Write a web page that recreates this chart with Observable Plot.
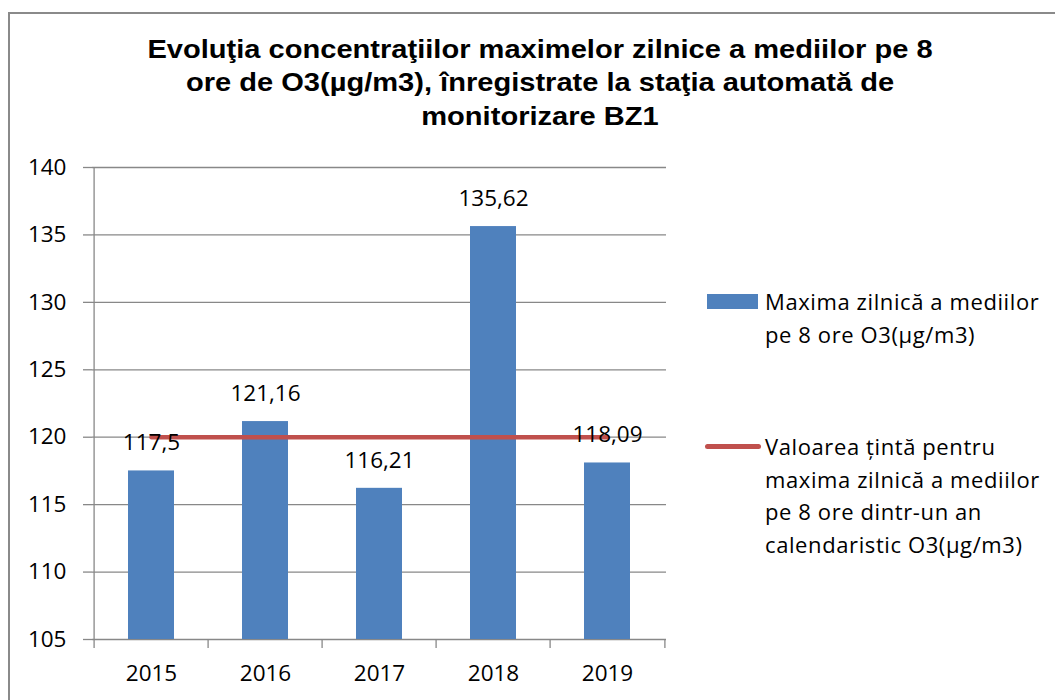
<!DOCTYPE html>
<html>
<head>
<meta charset="utf-8">
<script src="https://cdn.jsdelivr.net/npm/d3@7"></script>
<script src="https://cdn.jsdelivr.net/npm/@observablehq/plot@0.6"></script>
<style>
  body { margin: 0; background: #fff; }
  #wrap { position: relative; width: 1055px; height: 700px; overflow: hidden; background: #fff; }
  #border { position: absolute; left: 8px; top: 12px; width: 1100px; height: 800px; border: 2px solid #8a8a8a; box-sizing: border-box; }
  #title { position: absolute; left: 0; top: 33px; width: 1080px; text-align: center; font: bold 25.5px "Liberation Sans", Arial, sans-serif; line-height: 33.4px; color: #000; transform: scaleX(1.14); transform-origin: 540px 0; white-space: nowrap; }
  #chart { position: absolute; left: 0; top: 140px; }
  .lg-text { position: absolute; left: 765px; font: 22px "Open Sans", sans-serif; letter-spacing: 0.6px; color: #000; white-space: nowrap; }
  #sw1 { position: absolute; left: 707px; top: 294px; width: 51px; height: 15px; background: #4F81BD; }
  #sw2 { position: absolute; left: 705px; top: 444px; width: 56px; height: 4.5px; border-radius: 3px; background: #C0504D; }
</style>
</head>
<body>
<div id="wrap">
  <div id="border"></div>
  <div id="title">Evoluţia concentraţiilor maximelor zilnice a mediilor pe 8<br>ore de O3(µg/m3), înregistrate la staţia automată de<br>monitorizare BZ1</div>
  <div id="chart"></div>
  <div id="sw1"></div>
  <div class="lg-text" style="top:285px; line-height:32.5px;">Maxima zilnică a mediilor<br>pe 8 ore O3(µg/m3)</div>
  <div id="sw2"></div>
  <div class="lg-text" style="top:430px; line-height:32.7px;">Valoarea țintă pentru<br>maxima zilnică a mediilor<br>pe 8 ore dintr-un an<br>calendaristic O3(µg/m3)</div>
</div>
<script>
const years = ["2015", "2016", "2017", "2018", "2019"];
const maxValues = [117.5, 121.16, 116.21, 135.62, 118.09];
const targetValues = [120, 120, 120, 120, 120];
const yTicks = [105, 110, 115, 120, 125, 130, 135, 140];

const barData = years.map((y, i) => ({year: y, value: maxValues[i]}));
const lineData = years.map((y, i) => ({year: y, value: targetValues[i]}));
const yMin = yTicks[0], yMax = yTicks[yTicks.length - 1];

const W = 1055, H = 560, mL = 92, mR = 389, mT = 27, mB = 61;
const step = (W - mL - mR) / years.length;
const gray = "#888888";

const chart = Plot.plot({
  width: W, height: H,
  marginLeft: mL, marginRight: mR, marginTop: mT, marginBottom: mB,
  style: {fontFamily: "'Open Sans', sans-serif", fontSize: "22.5px", color: "#000", background: "transparent"},
  x: {type: "band", domain: years, paddingInner: 0.6, paddingOuter: 0.3, label: null},
  y: {domain: [yMin, yMax], label: null},
  marks: [
    Plot.gridY(yTicks, {stroke: gray, strokeOpacity: 1, strokeWidth: 1.3}),
    Plot.ruleX([years[0]], {x: d => d, dx: -step / 2, y1: yMin, y2: yMax, stroke: gray, strokeWidth: 1.3}),
    Plot.ruleX(years, {x: d => d, dx: -step / 2, y1: yMin, y2: yMin, insetBottom: -9, stroke: gray, strokeWidth: 1.3}),
    Plot.ruleX([years[years.length - 1]], {x: d => d, dx: step / 2, y1: yMin, y2: yMin, insetBottom: -9, stroke: gray, strokeWidth: 1.3}),
    Plot.axisY({ticks: yTicks, tickSize: 9, tickPadding: 17, stroke: gray, strokeWidth: 1.3, fill: "#000", tickFormat: d => String(d), label: null}),
    Plot.axisX({tickSize: 0, tickPadding: 26, fill: "#000", label: null}),
    Plot.barY(barData, {x: "year", y1: yMin, y2: "value", fill: "#4F81BD"}),
    Plot.line(lineData, {x: "year", y: "value", stroke: "#C0504D", strokeWidth: 4.5, strokeLinecap: "round"}),
    Plot.text(barData, {x: "year", y: "value", text: d => String(d.value).replace(".", ","), dy: -28, fill: "#000"})
  ]
});
document.getElementById("chart").appendChild(chart);
</script>
</body>
</html>
